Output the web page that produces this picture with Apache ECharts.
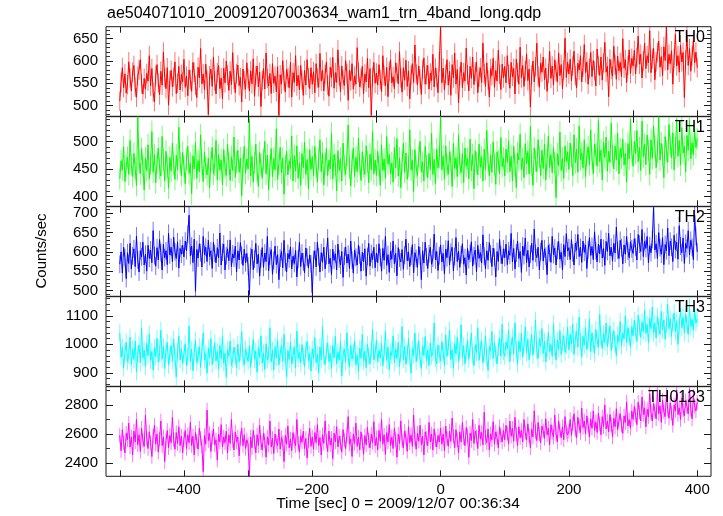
<!DOCTYPE html>
<html>
<head>
<meta charset="utf-8">
<script src="https://cdn.jsdelivr.net/npm/echarts@6/dist/echarts.min.js"></script>
<style>html,body{margin:0;padding:0;background:#fff}#c{width:723px;height:516px}</style>
</head>
<body>
<div id="c"></div>
<script>
// ---- data ----
const titleText = "ae504071010_20091207003634_wam1_trn_4band_long.qdp";
const xTitle = "Time [sec] 0 = 2009/12/07 00:36:34";
const yTitle = "Counts/sec";
const binStart = -500;   // first bin time [s]
const binWidth = 2;      // bin width [s]
const bandNames = ["TH0", "TH1", "TH2", "TH3", "TH0123"];

const th0 = [
510,552,585,540,571,528,547,598,562,533,575,590,541,519,566,580,603,549,526,561,
537,572,555,612,544,583,530,509,568,592,551,524,577,546,620,563,538,585,501,556,
579,542,564,598,527,550,588,535,570,553,
604,541,566,522,580,558,532,597,575,545,518,586,562,628,549,571,536,593,557,480,
567,582,543,609,555,526,574,590,538,562,515,584,551,600,568,534,577,547,619,559,
529,572,591,545,563,508,582,556,537,596,
560,533,578,549,605,521,567,589,542,575,498,556,583,537,618,561,544,572,527,594,
550,566,531,587,478,569,548,601,556,530,581,563,540,597,519,574,552,612,544,568,
535,590,557,523,579,546,603,562,538,585,
548,576,529,594,562,541,617,555,580,533,570,598,546,521,586,563,608,539,574,552,
625,567,531,589,558,545,601,572,512,580,556,594,537,566,548,630,575,542,561,588,
527,571,553,606,540,583,478,564,597,550,
573,546,592,558,531,612,567,544,586,520,577,603,551,565,538,596,574,549,621,562,
530,585,557,602,543,578,515,568,594,552,636,571,546,589,560,525,581,607,548,569,
590,537,573,556,615,542,584,563,529,598,
677,551,584,535,570,603,546,577,523,592,562,618,548,581,506,566,597,540,574,555,
629,569,533,588,561,609,547,576,598,529,564,585,552,640,572,543,596,558,519,583,
567,606,541,579,555,624,570,536,593,562,
588,551,612,570,539,597,565,583,526,604,574,548,631,562,590,543,578,616,556,582,
497,569,600,553,587,640,566,541,595,575,609,558,584,532,572,622,561,589,546,603,
577,553,618,567,592,538,580,651,563,597,
571,604,556,589,622,567,540,595,580,612,553,586,637,574,598,548,583,619,565,601,
578,544,627,590,568,609,557,596,642,575,588,520,604,581,566,633,592,559,611,578,
597,565,650,584,603,552,590,625,572,606,
589,624,571,608,656,593,615,562,600,640,583,612,596,668,574,605,629,558,598,619,
645,586,610,567,632,601,677,580,615,594,623,548,606,660,589,612,575,636,598,619,
518,603,657,590,628,577,611,645,596,620,
585];

const th1 = [
432,465,448,490,427,455,471,440,502,458,436,478,451,420,545,463,441,487,455,412,
470,447,494,432,459,518,444,476,425,462,488,451,437,509,466,428,482,454,415,471,
446,497,458,431,475,449,526,462,438,480,
455,423,468,491,442,460,405,474,450,498,433,465,445,512,458,427,481,452,439,470,
416,463,489,441,457,502,430,476,448,466,421,485,453,438,495,460,429,472,447,508,
435,462,484,444,470,401,457,491,442,468,
450,540,437,473,426,461,495,445,418,480,458,433,467,500,441,475,412,455,487,436,
469,448,523,431,460,489,443,470,404,456,482,439,465,451,510,428,474,446,492,433,
461,420,478,452,499,440,467,414,485,449,
472,437,491,455,426,468,503,445,479,421,460,487,438,466,450,515,432,476,458,410,
483,447,469,428,497,456,440,474,530,452,419,464,488,436,471,445,506,459,429,481,
454,440,492,463,425,477,448,518,441,466,
438,482,455,420,494,447,468,433,509,459,476,441,461,426,489,452,505,437,470,416,
462,497,444,479,431,455,521,448,466,409,485,453,438,472,500,445,462,428,491,456,
434,478,449,515,440,467,423,486,452,471,
545,448,474,431,492,457,440,481,463,418,496,451,470,436,512,459,443,478,425,488,
455,469,432,504,447,476,414,483,461,439,495,453,472,428,486,449,520,462,437,475,
444,499,458,422,481,465,441,507,454,470,
437,486,462,501,445,473,428,491,456,416,479,466,513,448,470,434,496,459,482,441,
527,457,420,488,465,445,503,472,438,484,451,495,430,467,510,452,476,443,489,461,
398,478,456,517,447,470,433,492,464,481,
449,497,473,438,512,461,486,444,528,467,479,452,503,436,475,490,458,521,469,441,
495,477,455,538,463,484,430,499,471,508,446,482,462,533,474,450,492,466,515,441,
487,470,504,457,478,426,496,468,540,481,
455,500,478,520,463,489,447,537,472,495,458,512,484,440,503,469,528,490,452,480,
545,466,497,475,434,509,483,462,531,494,470,516,448,488,540,473,502,457,525,479,
491,445,511,484,538,468,498,476,520,489,
505];

const th2 = [
568,600,545,612,585,531,598,570,622,556,590,608,562,641,579,548,603,587,625,566,
594,550,617,583,605,572,655,590,563,611,579,632,598,553,620,585,603,567,648,592,
612,575,638,600,583,626,558,609,594,617,
587,628,603,646,695,590,615,572,633,498,606,584,621,598,561,640,593,612,575,630,
588,603,557,625,596,572,611,584,649,566,599,620,553,590,608,577,631,562,595,584,
615,548,603,579,624,591,565,607,572,596,
563,490,588,607,554,581,622,569,594,537,583,611,560,597,575,640,551,589,606,542,
578,615,567,593,528,584,601,559,630,573,548,596,582,613,556,589,570,604,535,581,
625,562,597,574,546,610,586,558,592,569,
495,580,603,561,625,587,548,598,573,612,556,590,636,569,584,541,607,578,595,553,
620,582,566,601,534,589,613,571,594,557,628,579,545,604,586,566,617,592,550,599,
574,608,537,588,622,563,596,580,612,559,
597,572,621,586,550,609,578,640,565,593,547,602,581,628,569,596,538,611,584,574,
606,555,592,633,577,600,562,589,619,546,598,583,560,614,590,528,603,571,625,587,
557,595,612,568,584,646,579,601,552,590,
618,574,596,543,607,585,629,566,599,612,551,588,637,575,602,560,593,621,568,585,
540,609,580,596,626,563,590,605,548,617,583,598,571,644,589,556,603,578,624,595,
562,610,586,535,601,575,632,592,569,608,
585,620,567,603,591,648,574,609,556,597,628,583,601,547,615,590,636,572,604,561,
594,622,578,659,596,585,612,553,601,630,576,608,589,541,617,598,573,640,593,610,
566,604,627,581,599,553,619,588,647,602,
611,580,632,597,566,623,604,645,588,612,573,628,599,618,557,605,637,591,614,580,
652,603,574,620,595,633,584,609,565,627,601,648,590,612,576,622,597,664,604,583,
630,611,569,618,594,640,602,585,626,608,
596,634,612,579,645,620,601,658,588,627,609,640,572,616,598,632,715,605,621,583,
650,611,594,637,567,619,603,662,590,628,612,575,643,606,625,581,668,615,598,636,
570,622,609,655,592,630,612,580,695,640,
600];

const th3 = [
1040,955,990,918,972,1008,940,961,1025,930,985,947,1012,903,966,998,935,1058,952,979,
922,1003,960,1036,944,975,910,988,957,1021,938,969,1050,948,992,915,980,1006,927,963,
996,941,1018,955,885,974,1030,946,984,932,
968,1002,925,957,1065,940,983,908,971,1014,936,960,992,919,978,1040,945,966,899,987,
953,1020,929,964,1005,942,975,913,996,950,1030,934,969,885,981,958,1012,926,947,990,
960,917,1000,939,973,1045,951,928,984,962,
941,995,920,966,1018,948,976,902,988,955,1030,934,970,912,1002,945,963,1058,938,980,
910,992,952,1015,928,968,995,940,1035,957,886,978,947,1008,930,962,990,918,1047,951,
972,935,999,959,921,983,1010,943,967,906,
985,950,1023,936,965,900,991,946,1062,958,929,977,1004,940,968,915,996,953,1028,931,
972,945,1010,889,962,984,937,1040,955,920,998,948,970,1012,927,963,905,987,951,1035,
940,976,918,1000,959,932,982,1052,946,969,
1015,938,979,952,1003,925,968,1046,944,990,912,975,960,1030,935,984,950,1007,921,970,
1062,947,993,930,966,1020,955,899,985,962,1040,939,975,1012,948,916,994,961,1028,943,
980,925,1005,957,972,1075,950,932,998,965,
942,1010,975,926,1033,958,990,1050,947,981,915,1003,966,1025,940,978,1068,953,995,932,
972,1015,948,987,1040,960,925,998,971,1058,944,983,1012,936,968,1030,955,909,992,976,
1045,950,1005,967,931,989,1022,958,1070,975,
958,1008,985,1050,940,996,1025,967,1075,982,930,1012,975,1040,955,995,1062,970,1018,946,
988,1035,962,1003,1085,978,950,1020,993,1055,968,1010,938,985,1042,975,1000,958,1072,990,
945,1015,982,1048,965,1005,1030,972,996,1060,
980,1035,1002,1070,965,1018,1045,990,1095,1008,955,1028,997,1060,982,1012,1088,975,1040,1000,
968,1052,1015,990,1105,1022,985,1038,1006,1075,992,1030,1065,978,1016,1048,1000,960,1032,1010,
1080,995,1040,1020,1100,1005,1058,1028,990,1062,
1030,1085,1048,1010,1102,1060,1025,1078,1045,1120,1038,1070,1005,1092,1055,1130,1040,1075,1022,1098,
1062,1035,1115,1050,1085,1018,1068,1140,1055,1090,1028,1076,1110,1045,1082,1000,1065,1125,1058,1095,
1040,1108,1070,1035,1130,1062,1088,1050,1118,1075,
1090];

const th0123 = [
2590,2485,2630,2540,2470,2605,2560,2675,2510,2580,2455,2620,2545,2700,2525,2595,2480,2640,2555,2515,
2730,2570,2500,2615,2540,2445,2585,2660,2530,2600,2475,2565,2690,2520,2580,2410,2555,2625,2505,2590,
2540,2715,2560,2495,2610,2535,2650,2520,2585,2470,
2565,2625,2500,2595,2540,2680,2520,2585,2455,2610,2550,2495,2640,2570,2515,2340,2590,2530,2765,2555,
2605,2480,2575,2635,2525,2560,2420,2600,2545,2665,2510,2580,2540,2620,2470,2595,2535,2700,2555,2490,
2615,2545,2580,2450,2570,2640,2520,2595,2500,2560,
2530,2310,2580,2505,2625,2545,2470,2595,2520,2660,2540,2490,2605,2555,2440,2580,2525,2690,2510,2570,
2465,2600,2545,2520,2635,2495,2575,2540,2410,2590,2530,2655,2505,2565,2485,2610,2550,2520,2700,2535,
2475,2585,2545,2620,2500,2570,2435,2555,2640,2515,
2580,2495,2610,2540,2665,2520,2575,2455,2595,2535,2690,2550,2480,2620,2525,2570,2430,2605,2545,2650,
2510,2585,2540,2475,2630,2560,2500,2595,2720,2530,2565,2445,2600,2535,2675,2515,2580,2490,2615,2550,
2460,2590,2525,2645,2555,2505,2600,2540,2685,2520,
2575,2490,2625,2550,2700,2530,2595,2460,2610,2545,2665,2520,2580,2500,2640,2560,2440,2600,2535,2690,
2555,2505,2620,2575,2480,2650,2540,2595,2515,2730,2565,2495,2605,2550,2660,2525,2585,2455,2615,2570,
2520,2680,2545,2600,2490,2635,2560,2510,2590,2545,
2640,2530,2600,2485,2655,2570,2515,2620,2550,2710,2585,2505,2630,2560,2470,2615,2545,2680,2575,2520,
2645,2590,2440,2605,2555,2700,2535,2620,2580,2500,2660,2565,2610,2525,2750,2575,2540,2635,2490,2600,
2560,2685,2530,2615,2575,2505,2650,2590,2545,2625,
2560,2660,2605,2530,2690,2585,2640,2550,2715,2600,2520,2650,2575,2625,2545,2700,2610,2560,2670,2590,
2505,2635,2580,2760,2615,2555,2680,2600,2540,2655,2620,2570,2705,2595,2640,2525,2665,2610,2580,2730,
2600,2545,2690,2625,2575,2650,2560,2720,2615,2595,
2620,2700,2590,2670,2740,2630,2575,2715,2655,2610,2780,2645,2690,2600,2725,2660,2580,2705,2640,2760,
2625,2685,2610,2745,2670,2595,2720,2650,2800,2635,2690,2615,2735,2665,2580,2710,2650,2775,2630,2695,
2740,2660,2605,2725,2680,2820,2655,2700,2640,2760,
2700,2790,2730,2665,2820,2750,2690,2855,2735,2780,2650,2770,2720,2880,2745,2690,2810,2760,2705,2900,
2740,2795,2680,2835,2755,2720,2870,2770,2710,2815,2745,2660,2800,2760,2905,2735,2780,2700,2850,2765,
2725,2830,2790,2740,2910,2770,2705,2860,2795,2760,
2820];

// typical 1-sigma error per band (c/s)
const bandErrors = [22, 20, 23, 30, 50];

// axis ranges and tick values
const xRange = [-521.5, 421.5];
const xTicks = [-500,-400,-300,-200,-100,0,100,200,300,400];
const xLabels = [-400,-200,0,200,400];
const yRanges = [[476,677],[382,545],[485,717],[853,1167],[2308,2927]];
const yMajor = [[500,550,600,650],[400,450,500],[500,550,600,650,700],[900,1000,1100],[2400,2600,2800]];
const yMinorStep = [10,10,10,20,100];

// ---- chart ----
const bandValues = [th0, th1, th2, th3, th0123];
const colors = ['#ff0000','#00ff00','#0000ff','#00ffff','#ff00ff'];
const FONT = 'Liberation Sans, Arial, Helvetica, sans-serif';
const gridTops = [26.7, 116.7, 206.7, 296.7, 386.7];
const gridH = 89.6;
const L = 106, R = 12;

function minorList(r, step, major){
  const out = [];
  const s = Math.ceil(r[0]/step)*step;
  for (let v = s; v <= r[1]; v += step) if (major.indexOf(v) < 0) out.push(v);
  return out;
}
const minusFmt = v => String(v).replace('-', '\u2212');
const plainFmt = v => String(v);

const grids = [], xAxes = [], yAxes = [], series = [], graphics = [];
for (let g = 0; g < 5; g++) {
  grids.push({left: L, right: R, top: gridTops[g], height: gridH, show: true,
    borderColor: '#1a1a1a', borderWidth: 1, backgroundColor: 'transparent', containLabel: false});
  const baseX = {type: 'value', gridIndex: g, min: xRange[0], max: xRange[1],
    axisLine: {show: false, onZero: false}, splitLine: {show: false},
    axisTick: {show: true, inside: true, length: 6, customValues: xTicks, lineStyle: {color: '#1a1a1a'}}};
  xAxes.push(Object.assign({}, baseX, {position: 'bottom',
    axisLabel: {show: g === 4, customValues: xLabels, formatter: minusFmt, color: '#000',
      fontSize: 15, fontFamily: FONT, margin: 6}}));
  xAxes.push(Object.assign({}, baseX, {position: 'top', axisLabel: {show: false}}));
  const r = yRanges[g];
  const minor = minorList(r, yMinorStep[g], yMajor[g]);
  const baseY = {type: 'value', gridIndex: g, min: r[0], max: r[1],
    axisLine: {show: false, onZero: false}, splitLine: {show: false}};
  yAxes.push(Object.assign({}, baseY, {position: 'left',
    axisTick: {show: true, inside: true, length: 7, customValues: yMajor[g], lineStyle: {color: '#1a1a1a'}},
    axisLabel: {show: true, customValues: yMajor[g], formatter: plainFmt, color: '#000', fontSize: 15, fontFamily: FONT, margin: 8}}));
  yAxes.push(Object.assign({}, baseY, {position: 'left',
    axisTick: {show: true, inside: true, length: 4, customValues: minor, lineStyle: {color: '#333'}},
    axisLabel: {show: false}}));
  yAxes.push(Object.assign({}, baseY, {position: 'right',
    axisTick: {show: true, inside: true, length: 7, customValues: yMajor[g], lineStyle: {color: '#1a1a1a'}},
    axisLabel: {show: false}}));
  yAxes.push(Object.assign({}, baseY, {position: 'right',
    axisTick: {show: true, inside: true, length: 4, customValues: minor, lineStyle: {color: '#333'}},
    axisLabel: {show: false}}));

  const vals = bandValues[g];
  const pts = vals.map((v, i) => [binStart + i * binWidth, v]);
  const err = bandErrors[g];
  const col = colors[g];
  series.push({type: 'custom', xAxisIndex: 2*g, yAxisIndex: 4*g, clip: true, silent: true,
    data: pts.map(p => [p[0], p[1], err]),
    renderItem: function (params, api) {
      const x = api.value(0), y = api.value(1), e = api.value(2);
      const a = api.coord([x, y - e]), b = api.coord([x, y + e]);
      return {type: 'line', shape: {x1: a[0], y1: a[1], x2: b[0], y2: b[1]},
        style: {stroke: col, lineWidth: 1, opacity: 0.55}};
    }});
  series.push({type: 'line', xAxisIndex: 2*g, yAxisIndex: 4*g, data: pts, showSymbol: false,
    symbol: 'none', sampling: null, clip: true, silent: true,
    lineStyle: {color: col, width: 1}});
  graphics.push({type: 'text', right: 18, top: gridTops[g] + 3, z: 100,
    style: {text: bandNames[g], fill: '#000', font: '16px ' + FONT}});
}

graphics.push({type: 'text', z: 100, x: 42, y: 251, rotation: Math.PI / 2,
  style: {text: yTitle, fill: '#000', font: '15px ' + FONT, textAlign: 'center', textVerticalAlign: 'middle'}});
graphics.push({type: 'text', z: 100, x: 398, y: 504,
  style: {text: xTitle, fill: '#000', font: '15.5px ' + FONT, textAlign: 'center', textVerticalAlign: 'middle'}});
graphics.push({type: 'text', z: 100, x: 107, y: 14,
  style: {text: titleText, fill: '#000', font: '16px ' + FONT, textAlign: 'left', textVerticalAlign: 'middle'}});

const chart = echarts.init(document.getElementById('c'), null, {renderer: 'canvas'});
chart.setOption({
  animation: false,
  backgroundColor: '#fff',
  grid: grids, xAxis: xAxes, yAxis: yAxes, series: series, graphic: graphics
});
</script>
</body>
</html>
